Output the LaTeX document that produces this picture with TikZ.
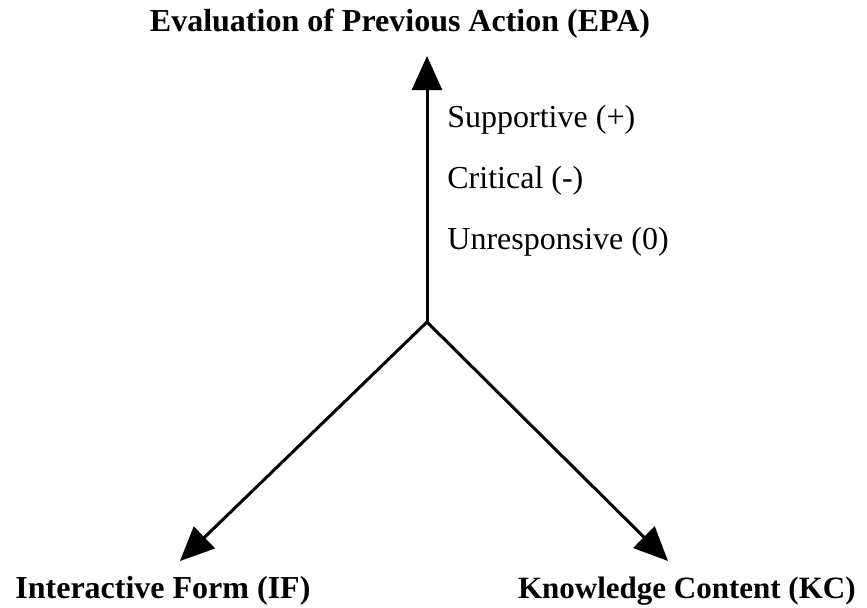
\documentclass[tikz,border=0pt]{standalone}
\usepackage{fontspec}
\setmainfont{Liberation Serif}
\usetikzlibrary{arrows.meta}

\begin{document}
\begin{tikzpicture}[x=0.5pt,y=-0.5pt,
      judul/.style={font=\fontsize{16}{19}\selectfont\bfseries,inner sep=0pt},
      nilai/.style={font=\fontsize{16}{19}\selectfont,inner sep=0pt,anchor=base west},
      sumbu/.style={line width=1.5pt,-{Triangle[length=17pt,width=15pt]}}]
    \useasboundingbox (0,0) rectangle (867,607);

    % Titik pusat dan ujung ketiga sumbu
    \coordinate (pusat) at (427,322);
    \coordinate (ujungEPA) at (427,56);
    \coordinate (ujungIF) at (180,561);
    \coordinate (ujungKC) at (668,561);

    % Nama sumbu
    \node[judul,anchor=base] (epa) at (400,31)
      {Evaluation of Previous Action (EPA)};
    \node[judul,anchor=base west] (if) at (15,598) {Interactive Form (IF)};
    \node[judul,anchor=base east,font=\fontsize{15.5}{19}\selectfont\bfseries]
      (kc) at (856,598) {Knowledge Content (KC)};

    % Nilai pada sumbu EPA
    \node[nilai] (plus) at (447,127) {Supportive (+)};
    \node[nilai] (minus) at (447,188) {Critical (-)};
    \node[nilai] (nol) at (447,249) {Unresponsive (0)};

    % Panah sumbu
    \foreach \u in {ujungEPA, ujungIF, ujungKC}
      {\draw[sumbu] (pusat) -- (\u);}
  \end{tikzpicture}
\end{document}
